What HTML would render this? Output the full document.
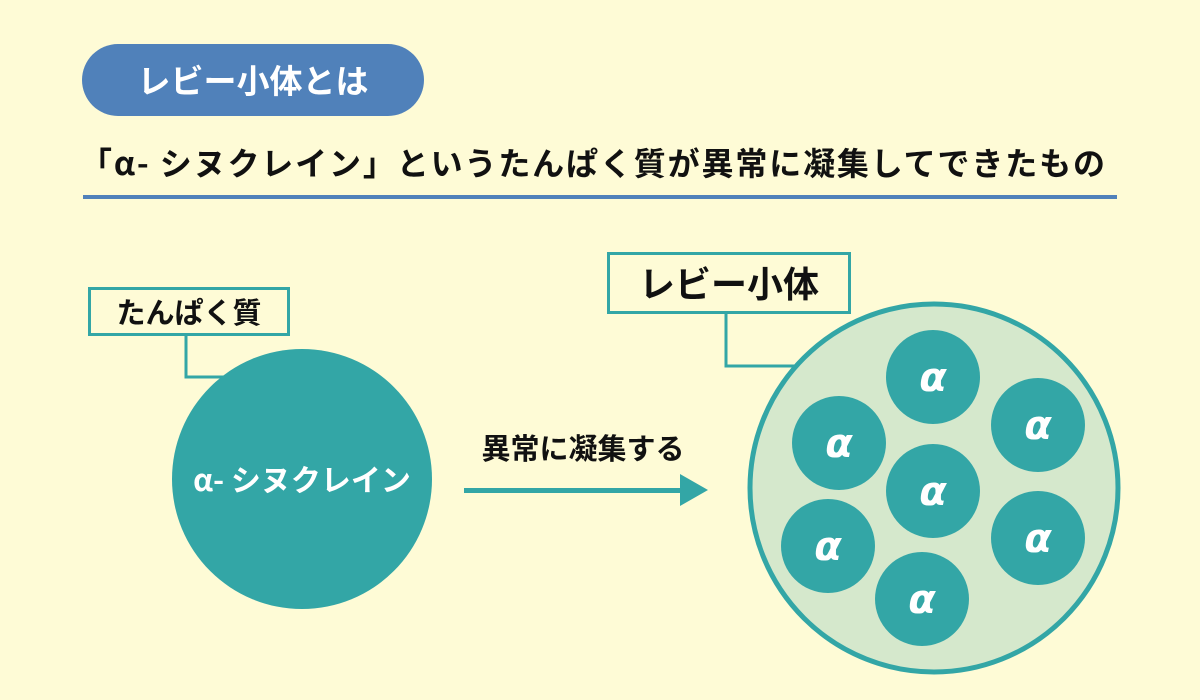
<!DOCTYPE html>
<html><head><meta charset="utf-8"><style>
body{margin:0;width:1200px;height:700px;background:#fefbd6;overflow:hidden;font-family:"Liberation Sans","Noto Sans CJK JP",sans-serif;font-weight:bold}
</style></head><body>
<svg width="1200" height="700" xmlns="http://www.w3.org/2000/svg" style="position:absolute;left:0;top:0">
<rect x="82" y="44" width="342" height="72" rx="36" fill="#5081ba"/>
<text x="253" y="93" font-size="33" fill="#fff" text-anchor="middle" font-family="Noto Sans CJK JP" font-weight="bold">レビー小体とは</text>
<text x="80" y="175" font-size="32" fill="#111" font-family="Noto Sans CJK JP" font-weight="bold" textLength="1025">「α- シヌクレイン」というたんぱく質が異常に凝集してできたもの</text>
<rect x="83" y="195" width="1034" height="4" fill="#5081ba"/>
<polyline points="186,335 186,377 225,377" fill="none" stroke="#33a6a6" stroke-width="3"/>
<rect x="89.5" y="288.5" width="199" height="46" fill="#fefbd6" stroke="#33a6a6" stroke-width="3"/>
<text x="189" y="323" font-size="29" fill="#111" text-anchor="middle" font-family="Noto Sans CJK JP" font-weight="bold">たんぱく質</text>
<circle cx="302" cy="479" r="130" fill="#33a6a6"/>
<text x="302" y="491" font-size="30" fill="#fff" text-anchor="middle" font-family="Noto Sans CJK JP" font-weight="bold">α- シヌクレイン</text>
<text x="583" y="459" font-size="29" fill="#111" text-anchor="middle" font-family="Noto Sans CJK JP" font-weight="bold">異常に凝集する</text>
<rect x="464" y="488" width="220" height="5" fill="#33a6a6"/>
<polygon points="680,474 708,490 680,506" fill="#33a6a6"/>
<polyline points="726,313 726,366 800,366" fill="none" stroke="#33a6a6" stroke-width="3"/>
<rect x="608.5" y="253.5" width="241" height="59" fill="#fefbd6" stroke="#33a6a6" stroke-width="3"/>
<text x="729" y="297" font-size="36" fill="#111" text-anchor="middle" font-family="Noto Sans CJK JP" font-weight="bold">レビー小体</text>
<circle cx="934" cy="488" r="184" fill="#d5e8cc" stroke="#33a6a6" stroke-width="5"/>
<g fill="#33a6a6">
<circle cx="933" cy="377" r="47"/><circle cx="839" cy="443" r="47"/><circle cx="1038" cy="425" r="47"/>
<circle cx="933" cy="491" r="47"/><circle cx="828" cy="546" r="47"/><circle cx="1038" cy="538" r="47"/>
<circle cx="922" cy="599" r="47"/></g>
<g fill="#fff" font-size="40" font-style="italic" text-anchor="middle" font-family="DejaVu Sans" font-weight="bold">
<text x="933" y="391">α</text><text x="839" y="457">α</text><text x="1038" y="439">α</text>
<text x="933" y="505">α</text><text x="828" y="560">α</text><text x="1038" y="552">α</text>
<text x="922" y="613">α</text></g>
</svg>
</body></html>
